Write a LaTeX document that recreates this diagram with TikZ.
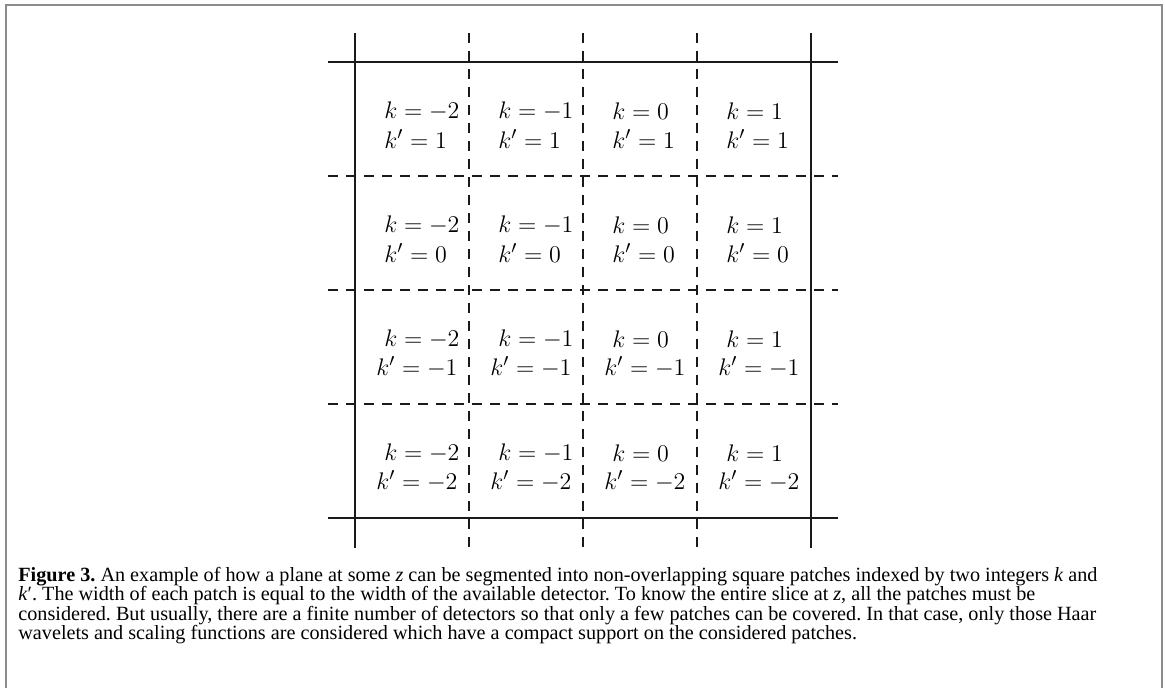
\documentclass[tikz,border=0pt]{standalone}
\usepackage{fontspec}
\setmainfont{Liberation Serif}
\definecolor{framegray}{HTML}{8C8C8C}
\definecolor{gridink}{HTML}{1A1A1A}
\tikzset{
  solidline/.style={gridink, line width=1.4pt},
  dashline/.style={gridink, line width=1.4pt, dash pattern=on 5pt off 4pt},
  celltext/.style={inner sep=0pt, anchor=west, font=\fontsize{12.4}{14}\selectfont},
  captext/.style={inner sep=0pt, anchor=north west, align=left, font=\fontsize{10.1}{9.6}\selectfont\frenchspacing}
}

\begin{document}
\begin{tikzpicture}[x=0.5pt, y=-0.5pt]
  \useasboundingbox (0,0) rectangle (1165,688);

  % Outer frame, open at the bottom
  \draw[framegray, line width=1pt] (5.5,688) -- (5.5,5) -- (1162,5) -- (1162,688);

  % Patch borders: solid outer lines, dashed inner lines
  \foreach \gx in {355,811} \draw[solidline] (\gx,33) -- (\gx,548);
  \foreach \gx in {469,583,697} \draw[dashline] (\gx,33) -- (\gx,548);
  \foreach \gy in {62,518} \draw[solidline] (328,\gy) -- (838,\gy);
  \foreach \gy in {176,290,404} \draw[dashline] (328,\gy) -- (838,\gy);

  % Patch labels k and k'
  \foreach \c/\kk in {0/-2,1/-1,2/0,3/1} {
    \foreach \r/\kp in {0/1,1/0,2/-1,3/-2} {
      \pgfmathsetmacro{\lx}{384+114*\c}
      \pgfmathsetmacro{\ly}{111+114*\r}
      \node[celltext] (k-\c-\r) at (\lx,\ly) {$k=\kk$};
      \ifnum\kp<0
        \node[celltext] (kp-\c-\r) at (\lx-8,\ly+28) {$k'=\kp$};
      \else
        \node[celltext] (kp-\c-\r) at (\lx,\ly+28) {$k'=\kp$};
      \fi
    }
  }

  % Caption
  \node[captext] (caption) at (18,567) {\textbf{Figure 3.} An example of how a plane at some \textit{z} can be segmented into non-overlapping square patches indexed by two integers \textit{k} and\\
    \textit{k}′. The width of each patch is equal to the width of the available detector. To know the entire slice at \textit{z}, all the patches must be\\
    considered. But usually, there are a finite number of detectors so that only a few patches can be covered. In that case, only those Haar\\
    wavelets and scaling functions are considered which have a compact support on the considered patches.};
\end{tikzpicture}
\end{document}
